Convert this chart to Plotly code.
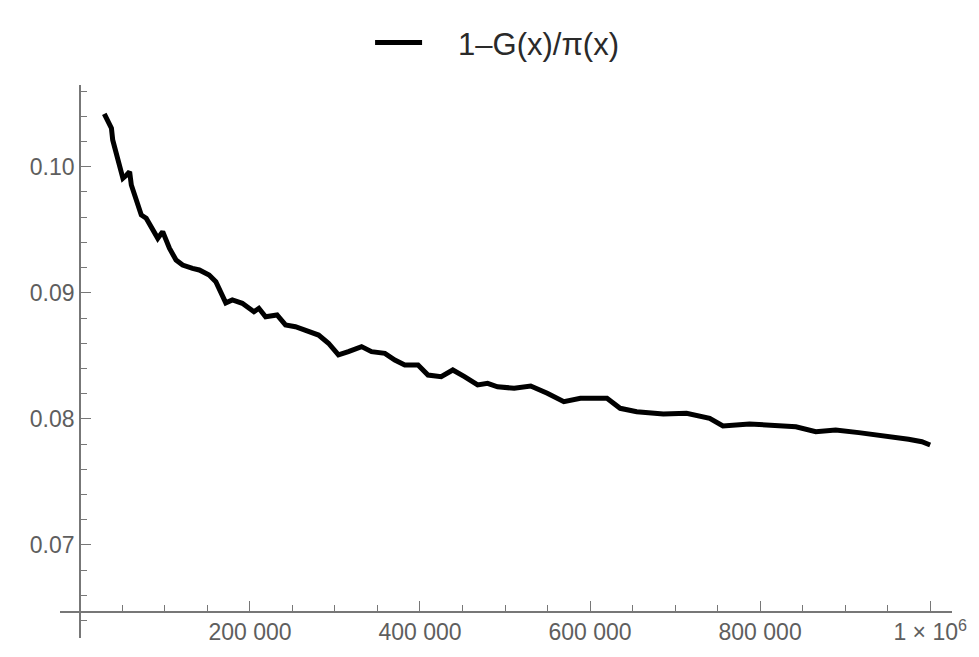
import plotly.graph_objects as go

# values
x_vals = [28700, 31600, 37100, 38600, 40900, 46800, 50600, 55000, 58500, 60500,
          66300, 72200, 78000, 83900, 91600, 97400, 105300, 113100, 120800, 132500,
          140400, 152000, 159900, 171600, 179300, 191000, 204700, 210500, 218400, 231900,
          241800, 253500, 269000, 280700, 292400, 304100, 315800, 331300, 343000, 358700,
          370400, 382100, 397700, 409400, 424900, 438600, 452300, 467800, 479500, 491200,
          510800, 530200, 549700, 569200, 588700, 619900, 635400, 654900, 686200, 713500,
          740700, 756300, 787500, 818700, 842100, 865500, 888900, 916100, 939500, 974600,
          990300, 1000000]
y_vals = [0.10418, 0.10370, 0.10305, 0.10212, 0.10146, 0.10013, 0.09908, 0.09934, 0.09960, 0.09855,
          0.09722, 0.09617, 0.09591, 0.09524, 0.09432, 0.09485, 0.09353, 0.09260, 0.09220, 0.09194,
          0.09181, 0.09141, 0.09088, 0.08920, 0.08943, 0.08917, 0.08850, 0.08877, 0.08810, 0.08824,
          0.08745, 0.08731, 0.08692, 0.08665, 0.08600, 0.08507, 0.08533, 0.08573, 0.08533, 0.08520,
          0.08467, 0.08427, 0.08427, 0.08348, 0.08335, 0.08388, 0.08335, 0.08269, 0.08282, 0.08255,
          0.08243, 0.08261, 0.08203, 0.08136, 0.08163, 0.08163, 0.08084, 0.08057, 0.08039, 0.08044,
          0.08005, 0.07944, 0.07960, 0.07952, 0.07938, 0.07899, 0.07912, 0.07891, 0.07872, 0.07838,
          0.07819, 0.07793]

x_tickvals = [200000, 400000, 600000, 800000, 1000000]
x_ticktext = ["200 000", "400 000", "600 000", "800 000", "1 × 10<sup>6</sup>"]
y_tickvals = [0.07, 0.08, 0.09, 0.10]
y_ticktext = ["0.07", "0.08", "0.09", "0.10"]
series_name = "\u2002\u20021–G(x)/π(x)"

x_range = [-23390, 1025700]
y_range = [0.062624, 0.106479]
x_axis_cross_y = 0.064687   # y value where the x axis sits
y_axis_cross_x = 0          # x value where the y axis sits

axis_col = "#777777"
lab_col = "#5e5e5e"
FONT = "Liberation Sans, Arial, sans-serif"

fig = go.Figure()
fig.add_trace(go.Scatter(x=x_vals, y=y_vals, mode="lines", name=series_name,
                         line=dict(color="black", width=5), showlegend=True))

xpos = (x_axis_cross_y - y_range[0]) / (y_range[1] - y_range[0])
ypos = (y_axis_cross_x - x_range[0]) / (x_range[1] - x_range[0])

fig.update_layout(
    width=979, height=657,
    margin=dict(l=60, r=22, t=85, b=19),
    plot_bgcolor="white", paper_bgcolor="white",
    font=dict(family=FONT, color=lab_col, size=23),
    showlegend=True,
    legend=dict(orientation="h", x=0.49, xanchor="center", y=1.076, yanchor="middle",
                itemwidth=47,
                font=dict(size=31, color="#2a2a2a", family=FONT), bgcolor="rgba(0,0,0,0)"),
    xaxis=dict(range=x_range, domain=[0, 1], anchor="free", position=xpos,
               showgrid=False, zeroline=False, showline=True, linecolor=axis_col, linewidth=1.5,
               tickvals=x_tickvals, ticktext=x_ticktext, ticks="inside", ticklen=10,
               tickwidth=1.2, tickcolor=axis_col,
               tickfont=dict(size=23, color=lab_col, family=FONT),
               minor=dict(ticks="inside", dtick=50000, tick0=0, ticklen=6, tickwidth=1, tickcolor=axis_col)),
    yaxis=dict(range=y_range, domain=[0, 1], anchor="free", position=ypos,
               showgrid=False, zeroline=False, showline=True, linecolor=axis_col, linewidth=1.5,
               tickvals=y_tickvals, ticktext=y_ticktext, ticks="inside", ticklen=10,
               tickwidth=1.2, tickcolor=axis_col,
               tickfont=dict(size=23, color=lab_col, family=FONT),
               minor=dict(ticks="inside", dtick=0.002, tick0=0, ticklen=6, tickwidth=1, tickcolor=axis_col)),
)

fig.write_html("out.html")
